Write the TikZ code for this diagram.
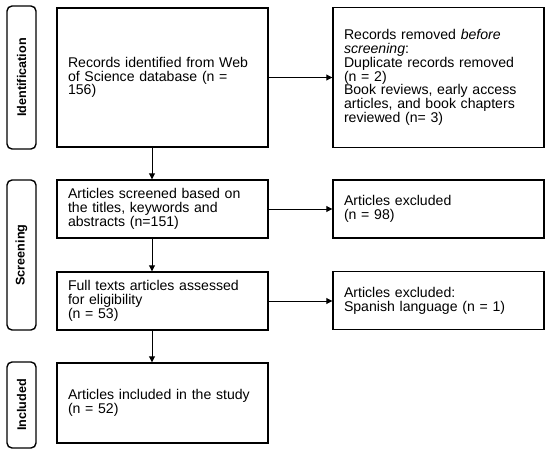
\documentclass[tikz,border=0pt]{standalone}
\usepackage{fontspec}
\setmainfont{Liberation Sans}
\usetikzlibrary{arrows.meta}
\tikzset{
  box/.style={draw, line width=1.4pt, text width=#1, align=left, inner xsep=11pt, inner ysep=0pt,
    font=\fontsize{14.1}{13.8}\selectfont},
  box/.default=189pt,
  phase/.style={draw, line width=1.4pt, rounded corners=5pt, minimum height=29pt, rotate=90,
    font=\bfseries\fontsize{12.6}{12.6}\selectfont, inner sep=0pt},
  flow/.style={->, line width=0.9pt}
}
\begin{document}
\begin{tikzpicture}[x=1pt,y=-1pt,>={Triangle[length=6pt,width=6pt]}]
\useasboundingbox (0,0) rectangle (550,453);
% phase labels on the left
\node[phase, minimum width=143pt] (idf) at (21.5,77.5) {Identification};
\node[phase, minimum width=150pt] (scr) at (21.5,255) {Screening};
\node[phase, minimum width=86pt] (inc) at (21.5,405) {Included};
% main column
\node[box, minimum height=139pt] (rec) at (162.5,77.5) {Records identified from Web\\ of Science database (n =\\ 156)};
\node[box, minimum height=58pt] (scrn) at (162.5,209) {Articles screened based on\\ the titles, keywords and\\ abstracts (n=151)};
\node[box, minimum height=58pt] (full) at (162.5,301) {Full texts articles assessed\\ for eligibility\\ (n = 53)};
\node[box, minimum height=80pt] (incl) at (162.5,403) {Articles included in the study\\ (n = 52)};
% right column
\node[box, minimum height=140pt] (rem) at (438.5,77.5) {Records removed \textit{before}\\ \textit{screening}:\\ Duplicate records removed\\ (n = 2)\\ Book reviews, early access\\ articles, and book chapters\\ reviewed (n= 3)};
\node[box, minimum height=58pt] (exa) at (438.5,209) {Articles excluded\\ (n = 98)};
\node[box, minimum height=58pt] (exb) at (438.5,300.5) {Articles excluded:\\ Spanish language (n = 1)};
\coordinate (axis) at (152,0);
% arrows
\draw[flow] (rec.south -| axis) -- (scrn.north -| axis);
\draw[flow] (scrn.south -| axis) -- (full.north -| axis);
\draw[flow] (full.south -| axis) -- (incl.north -| axis);
\draw[flow] (rec.east) -- (rem.west);
\draw[flow] (scrn.east) -- (exa.west);
\draw[flow] (full.east) -- (exb.west |- full.east);
\end{tikzpicture}
\end{document}
